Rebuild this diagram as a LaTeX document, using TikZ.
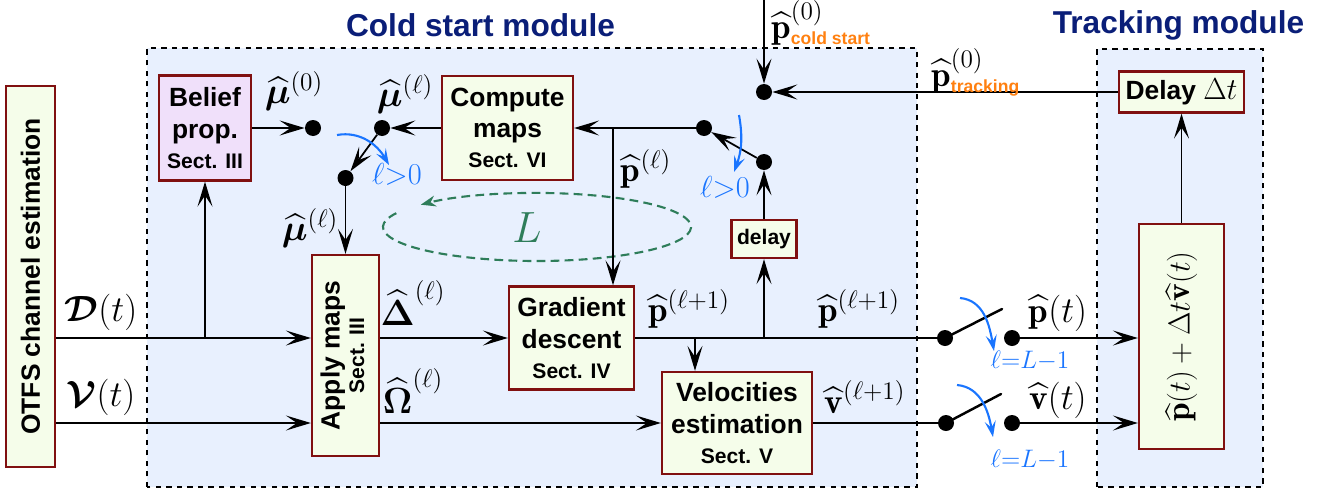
\documentclass[tikz,border=0pt]{standalone}
\usepackage{amsmath,bm}
\usepackage{fontspec}
\setsansfont{Liberation Sans}
\usepackage{tikz}
\usetikzlibrary{arrows.meta,calc,positioning}
\definecolor{boxRed}{RGB}{128,16,16}
\definecolor{boxFill}{RGB}{245,253,234}
\definecolor{beliefFill}{RGB}{240,224,250}
\definecolor{modFill}{RGB}{232,240,254}
\definecolor{titleNavy}{RGB}{10,30,120}
\definecolor{initOrange}{RGB}{255,128,16}
\definecolor{swBlue}{RGB}{26,117,255}
\definecolor{loopGreen}{RGB}{46,125,90}
\newcommand{\sectname}[1]{{\fontsize{12}{14}\selectfont Sect. #1}}
\newcommand{\subtag}[1]{\mbox{\fontsize{10}{11}\selectfont\sffamily\bfseries\color{initOrange}#1}}

\begin{document}
\begin{tikzpicture}[
  block/.style={draw=boxRed, line width=1.3pt, fill=boxFill, align=center, inner sep=1pt, font=\sffamily\bfseries\fontsize{15}{18}\selectfont},
  dot/.style={circle, fill=black, inner sep=0pt, minimum size=0.32cm},
  lbl/.style={inner sep=0pt, font=\fontsize{20}{22}\selectfont},
  swlbl/.style={inner sep=0pt, text=swBlue},
  title/.style={text=titleNavy, font=\sffamily\bfseries\fontsize{18}{20}\selectfont},
  arrow/.style={-{Stealth[length=5mm,width=3mm,inset=2.2mm]}, line width=1pt},
  swarr/.style={-{Stealth[length=3.2mm,width=2.2mm,inset=1.3mm]}, draw=swBlue, line width=1.2pt},
  blade/.style={line width=1.4pt, line cap=round},
  frame/.style={fill=modFill, dashed}
]
  \useasboundingbox (0,0) rectangle (26.68,9.86);

  \draw[frame, line width=0.6pt] (2.94,0.12) rectangle (18.34,8.90);
  \draw[frame, line width=1.3pt] (21.94,0.12) rectangle (25.26,8.88);
  \node[title] (coldttl) at (9.61,9.36) {Cold start module};
  \node[title] (trackttl) at (23.57,9.36) {Tracking module};

  \coordinate (lc) at (10.74,5.32);
  \draw[loopGreen, dash pattern=on 5pt off 3pt, line width=1.2pt, -{Stealth[length=3mm,width=2.2mm]}]
    ($(lc)+(156:3.08 and 0.68)$) arc[start angle=156, end angle=499, x radius=3.08, y radius=0.68];
  \node[text=loopGreen, font=\fontsize{32}{34}\selectfont] (lnum) at (10.54,5.30) {$L$};

  \node[block, minimum width=0.98cm, minimum height=7.62cm] (otfs) at (0.61,4.33) {\rotatebox{90}{OTFS channel estimation}};
  \node[block, fill=beliefFill, minimum width=1.84cm, minimum height=2.10cm] (belief) at (4.10,7.30) {Belief\\prop.\\[-1pt]\sectname{III}};
  \node[block, minimum width=2.62cm, minimum height=2.08cm] (compute) at (10.15,7.30) {Compute\\maps\\[-1pt]\sectname{VI}};
  \node[block, minimum width=1.34cm, minimum height=4.02cm] (apply) at (6.91,2.75) {\rotatebox{90}{\begin{tabular}{@{}c@{}}Apply maps\\[-4pt]\sectname{III}\end{tabular}}};
  \node[block, minimum width=2.50cm, minimum height=2.06cm] (gd) at (11.43,3.10) {Gradient\\descent\\[-1pt]\sectname{IV}};
  \node[block, minimum width=3.00cm, minimum height=2.04cm] (velo) at (14.74,1.40) {Velocities\\estimation\\[-1pt]\sectname{V}};
  \node[block, minimum width=1.30cm, minimum height=0.76cm, font=\sffamily\bfseries\fontsize{12}{14}\selectfont] (delay) at (15.28,5.08) {delay};
  \node[block, minimum width=2.50cm, minimum height=0.82cm] (delaydt) at (23.63,8.02) {Delay {\fontsize{16}{18}\selectfont$\Delta t$}};
  \node[block, minimum width=1.70cm, minimum height=4.50cm, font=\fontsize{19}{21}\selectfont] (update) at (23.63,3.13) {\rotatebox{90}{$\widehat{\mathbf{p}}(t)+\Delta t\widehat{\mathbf{v}}(t)$}};

  \node[dot] (mu0) at (6.26,7.30) {};
  \node[dot] (mul) at (7.64,7.30) {};
  \node[dot] (mulow) at (6.91,6.30) {};
  \node[dot] (pzero) at (15.28,8.02) {};
  \node[dot] (pl) at (14.08,7.30) {};
  \node[dot] (pdel) at (15.28,6.62) {};
  \node[dot] (swpa) at (18.90,3.10) {};
  \node[dot] (swpb) at (20.24,3.10) {};
  \node[dot] (swva) at (18.92,1.40) {};
  \node[dot] (swvb) at (20.24,1.40) {};

  \coordinate (dline) at (0,3.10);
  \coordinate (vline) at (0,1.40);
  \coordinate (tapv) at (13.90,3.10);
  \coordinate (tapd) at (15.28,3.10);
  \coordinate (tapp) at (12.26,7.30);
  \coordinate (pcold) at (15.28,9.86);

  \draw[arrow] (otfs.east |- dline) -- (apply.west |- dline);
  \draw[arrow] (belief.south |- dline) -- (belief.south);
  \draw[arrow] (otfs.east |- vline) -- (apply.west |- vline);
  \draw[arrow] (belief.east) -- (mu0);
  \draw[arrow] (compute.west) -- (mul);
  \draw[arrow] (mul) -- (mulow);
  \draw[arrow] (mulow) -- (apply.north);
  \draw[arrow] (apply.east |- dline) -- (gd.west);
  \draw[arrow] (apply.east |- vline) -- (velo.west);
  \draw[line width=1pt] (gd.east) -- (swpa);
  \draw[arrow] (tapv) -- (tapv |- velo.north);
  \draw[arrow] (tapd) -- (delay.south);
  \draw[arrow] (delay.north) -- (pdel);
  \draw[arrow] (pdel) -- (pl);
  \draw[arrow] (pl) -- (compute.east);
  \draw[arrow] (tapp) -- (tapp |- gd.north);
  \draw[arrow] (pcold) -- (pzero);
  \draw[arrow] (delaydt.west) -- (pzero);
  \draw[arrow] (update.north) -- (delaydt.south);
  \draw[line width=1pt] (velo.east) -- (swva);
  \draw[blade] (swpa.center) -- ++(1.14,0.58);
  \draw[blade] (swva.center) -- ++(1.10,0.58);
  \draw[arrow] (swpb) -- (update.west |- swpb);
  \draw[arrow] (swvb) -- (update.west |- swvb);

  \draw[swarr] (6.74,7.16) to[out=10,in=120] (7.78,6.56);
  \draw[swarr] (14.78,7.56) to[out=-80,in=70] (14.68,6.42);
  \draw[swarr] (19.20,3.90) to[out=-5,in=100] (19.88,2.84);
  \draw[swarr] (19.14,2.16) to[out=-5,in=100] (19.86,1.12);
  \node[swlbl, font=\fontsize{16}{18}\selectfont] (gt1) at (7.94,6.38) {$\ell{>}0$};
  \node[swlbl, font=\fontsize{16}{18}\selectfont] (gt2) at (14.50,6.12) {$\ell{>}0$};
  \node[swlbl, font=\fontsize{14}{16}\selectfont] (last1) at (20.60,2.64) {$\ell{=}L{-}1$};
  \node[swlbl, font=\fontsize{14}{16}\selectfont] (last2) at (20.60,0.66) {$\ell{=}L{-}1$};

  \node[lbl] (lmu0) at (5.88,8.04) {$\widehat{\boldsymbol{\mu}}^{(0)}$};
  \node[lbl] (lmul) at (8.10,7.98) {$\widehat{\boldsymbol{\mu}}^{(\ell)}$};
  \node[lbl] (lmulow) at (6.20,5.30) {$\widehat{\boldsymbol{\mu}}^{(\ell)}$};
  \node[lbl] (ldelta) at (8.26,3.80) {$\widehat{\boldsymbol{\Delta}}^{(\ell)}$};
  \node[lbl] (lomega) at (8.26,2.04) {$\widehat{\boldsymbol{\Omega}}^{(\ell)}$};
  \node[lbl] (lpnext) at (13.78,3.68) {$\widehat{\mathbf{p}}^{(\ell+1)}$};
  \node[lbl] (lpout) at (17.18,3.68) {$\widehat{\mathbf{p}}^{(\ell+1)}$};
  \node[lbl] (lvout) at (17.30,1.92) {$\widehat{\mathbf{v}}^{(\ell+1)}$};
  \node[lbl] (lpl) at (12.92,6.48) {$\widehat{\mathbf{p}}^{(\ell)}$};
  \node[lbl] (ldt) at (2.02,3.62) {$\boldsymbol{\mathcal{D}}(t)$};
  \node[lbl] (lvt) at (2.02,1.92) {$\boldsymbol{\mathcal{V}}(t)$};
  \node[lbl] (lpt) at (21.16,3.60) {$\widehat{\mathbf{p}}(t)$};
  \node[lbl] (lvtt) at (21.16,1.86) {$\widehat{\mathbf{v}}(t)$};
  \node[lbl, anchor=west] (lpcold) at (15.42,9.40) {$\widehat{\mathbf{p}}^{(0)}_{\subtag{cold start}}$};
  \node[lbl, anchor=west] (lptrack) at (18.62,8.42) {$\widehat{\mathbf{p}}^{(0)}_{\subtag{tracking}}$};
\end{tikzpicture}
\end{document}
